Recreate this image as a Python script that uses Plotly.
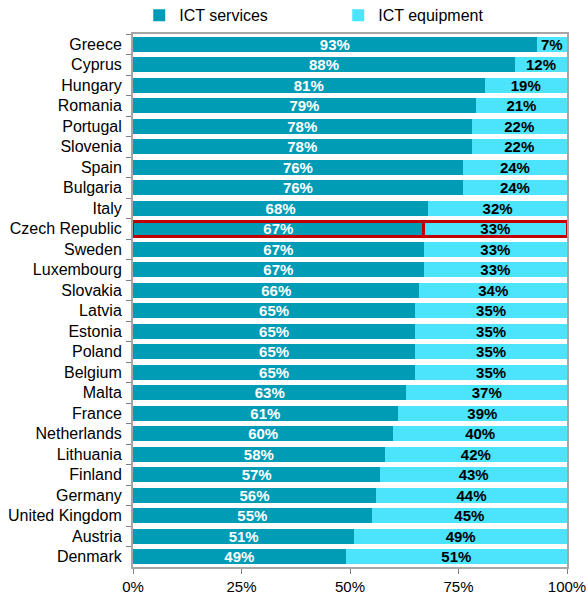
import plotly.graph_objects as go

countries = ["Greece", "Cyprus", "Hungary", "Romania", "Portugal", "Slovenia", "Spain",
             "Bulgaria", "Italy", "Czech Republic", "Sweden", "Luxembourg", "Slovakia",
             "Latvia", "Estonia", "Poland", "Belgium", "Malta", "France", "Netherlands",
             "Lithuania", "Finland", "Germany", "United Kingdom", "Austria", "Denmark"]
services = [93, 88, 81, 79, 78, 78, 76, 76, 68, 67, 67, 67, 66, 65, 65, 65, 65, 63, 61, 60,
            58, 57, 56, 55, 51, 49]
equipment = [7, 12, 19, 21, 22, 22, 24, 24, 32, 33, 33, 33, 34, 35, 35, 35, 35, 37, 39, 40,
             42, 43, 44, 45, 49, 51]
highlight = "Czech Republic"
x_ticks = [0, 25, 50, 75, 100]
x_tick_labels = ["0%", "25%", "50%", "75%", "100%"]

line_colors = ["#C00000" if c == highlight else "rgba(0,0,0,0)" for c in countries]
line_widths = [2.8 if c == highlight else 0 for c in countries]

font = "Liberation Sans, Arial, sans-serif"

fig = go.Figure()
fig.add_trace(go.Bar(
    y=countries, x=services, orientation="h", name="ICT services",
    marker=dict(color="#009BB4", line=dict(color=line_colors, width=line_widths)),
    text=[f"{v}%" for v in services], textposition="inside", insidetextanchor="middle",
    textfont=dict(color="white", size=15, family=font, weight="bold"),
    hoverinfo="x+y",
))
fig.add_trace(go.Bar(
    y=countries, x=equipment, orientation="h", name="ICT equipment",
    marker=dict(color="#4CE3FD", line=dict(color=line_colors, width=line_widths)),
    text=[f"{v}%" for v in equipment], textposition="inside", insidetextanchor="middle",
    textfont=dict(color="black", size=15, family=font, weight="bold"),
    hoverinfo="x+y",
))

fig.update_layout(
    barmode="stack", bargap=0.26,
    width=588, height=594,
    margin=dict(l=133, r=21, t=34, b=27, autoexpand=False),
    paper_bgcolor="white", plot_bgcolor="white",
    font=dict(family=font, size=15, color="black"),
    uniformtext=dict(minsize=15, mode="show"),
    showlegend=True,
    legend=dict(orientation="h", x=0.0144, xanchor="left", y=1.067, yanchor="top",
                traceorder="normal", entrywidth=154, font=dict(size=16),
                itemclick=False, bgcolor="rgba(0,0,0,0)"),
    xaxis=dict(range=[0, 100], tickvals=x_ticks, ticktext=x_tick_labels,
               showgrid=False, zeroline=False, showline=True, mirror=True,
               linecolor="#A6A6A6", linewidth=2, ticks="outside", ticklen=5,
               tickcolor="#808080", tickfont=dict(size=15)),
    yaxis=dict(categoryorder="array", categoryarray=countries, autorange="reversed",
               showgrid=False, zeroline=False, showline=True, mirror=True,
               linecolor="#A6A6A6", linewidth=2, ticks="outside", ticklen=5,
               tickcolor="#808080", tickson="boundaries", ticklabelstandoff=6,
               tickfont=dict(size=16)),
)

fig.write_html("out.html", config={"displayModeBar": False},
               post_script="document.body.style.margin='0';document.body.style.overflow='hidden';")
